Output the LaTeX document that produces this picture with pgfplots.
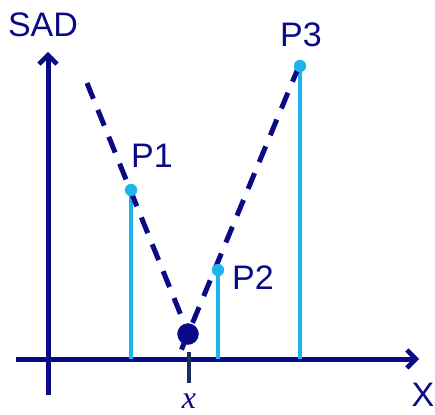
\documentclass[border=0pt]{standalone}
\usepackage{fontspec}
\setmainfont{Liberation Sans}
\newfontfamily\serifit{Liberation Serif}
\usepackage{pgfplots}
\pgfplotsset{compat=1.18}
\usetikzlibrary{arrows.meta}
\definecolor{navy}{RGB}{10,10,135}
\definecolor{lblue}{RGB}{30,180,235}
\definecolor{tickc}{RGB}{25,45,95}
\begin{document}
\begin{tikzpicture}
\begin{axis}[
  scale only axis, width=435pt, height=414pt,
  xmin=0, xmax=435, ymin=0, ymax=414, y dir=reverse,
  hide axis, clip=false,
]
% axes
\addplot[navy, line width=5pt, -{Straight Barb[length=9pt, width=18pt, line width=4.5pt]}] coordinates {(16,359) (419,359)};
\addplot[navy, line width=5pt, -{Straight Barb[length=9pt, width=18pt, line width=4.5pt]}] coordinates {(48,395) (48,52)};
% stems
\addplot[lblue, line width=4pt] coordinates {(131,359) (131,190)};
\addplot[lblue, line width=4pt] coordinates {(218,359) (218,270)};
\addplot[lblue, line width=4pt] coordinates {(300,359) (300,66)};
% dashed lines
\addplot[navy, line width=5pt, dash pattern=on 17pt off 12pt] coordinates {(87,83) (195,350)};
\addplot[navy, line width=5pt, dash pattern=on 17pt off 12pt] coordinates {(299,66) (178,358)};
% point markers
\addplot[only marks, mark=*, mark size=6pt, lblue, mark options={draw=lblue, fill=lblue}] coordinates {(131,190) (218,270) (300,66)};
% tick
\addplot[tickc, line width=4.5pt] coordinates {(189,352) (189,383)};
% minimum dot
\addplot[only marks, mark=*, mark size=10.5pt, mark options={draw=navy, fill=navy}] coordinates {(188,334)};
% labels
\node[navy, font=\fontsize{34}{40}\selectfont] at (axis cs:43,25) {SAD};
\node[navy, font=\fontsize{34}{40}\selectfont] at (axis cs:152,156) {P1};
\node[navy, font=\fontsize{34}{40}\selectfont] at (axis cs:253,278) {P2};
\node[navy, font=\fontsize{34}{40}\selectfont] at (axis cs:301,35) {P3};
\node[navy, font=\fontsize{34}{40}\selectfont] at (axis cs:423,395) {X};
\node[navy, font=\fontsize{32}{38}\selectfont\serifit\itshape] at (axis cs:189,401) {x};
\end{axis}
\pgfresetboundingbox
\path (0,0) rectangle (435pt,414pt);
\end{tikzpicture}
\end{document}
